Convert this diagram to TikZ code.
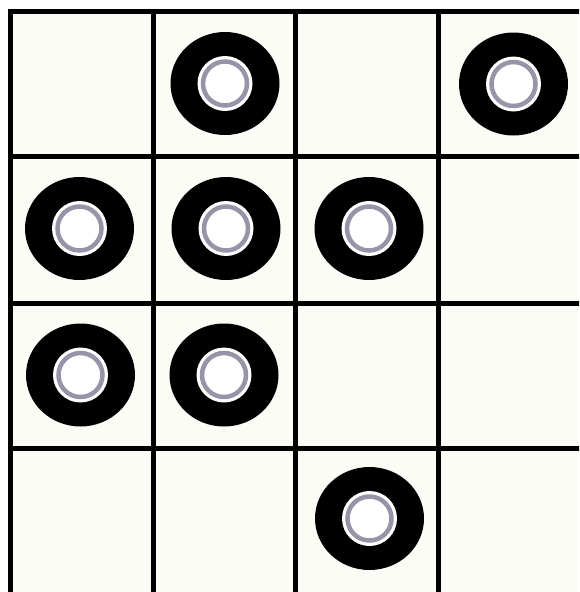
\documentclass[tikz,border=0pt]{standalone}
\usepackage{tikz}

\definecolor{cellfill}{RGB}{252,252,247}
\definecolor{ringgray}{RGB}{152,147,166}

\tikzset{
	gridline/.style={line width=5pt, black},
	outerdisc/.style={fill=black},
	innerdisc/.style={fill=white},
	innerring/.style={draw=ringgray, line width=4.5pt}
}

\begin{document}
\begin{tikzpicture}[x=1pt, y=-1pt]
		% Page frame, same size as the reference
		\useasboundingbox (0,0) rectangle (579,592);
		\clip (0,0) rectangle (579,592);

		% Cell background
		\fill[cellfill] (10.5,11.5) rectangle (590,600);

		% Grid lines, columns and rows
		\foreach \x in {10.5, 153, 295.5, 438, 584} {
				\draw[gridline] (\x, 9) -- (\x, 600);
			}
		\foreach \y in {11.5, 156.5, 303, 448, 597} {
				\draw[gridline] (8, \y) -- (590, \y);
			}

		% Discs: outer black ring, white core, gray circle
		\foreach \cx/\cy in {225/83.5, 513.5/84,
				79.5/228.5, 226/228.5, 369/228.5,
				80.5/375, 224/375,
				369.5/518.5} {
				\fill[outerdisc] (\cx, \cy) ellipse [x radius=54.5, y radius=51.5];
				\fill[innerdisc] (\cx, \cy) circle [radius=27.5];
				\draw[innerring] (\cx, \cy) circle [radius=22];
			}
	\end{tikzpicture}
\end{document}
